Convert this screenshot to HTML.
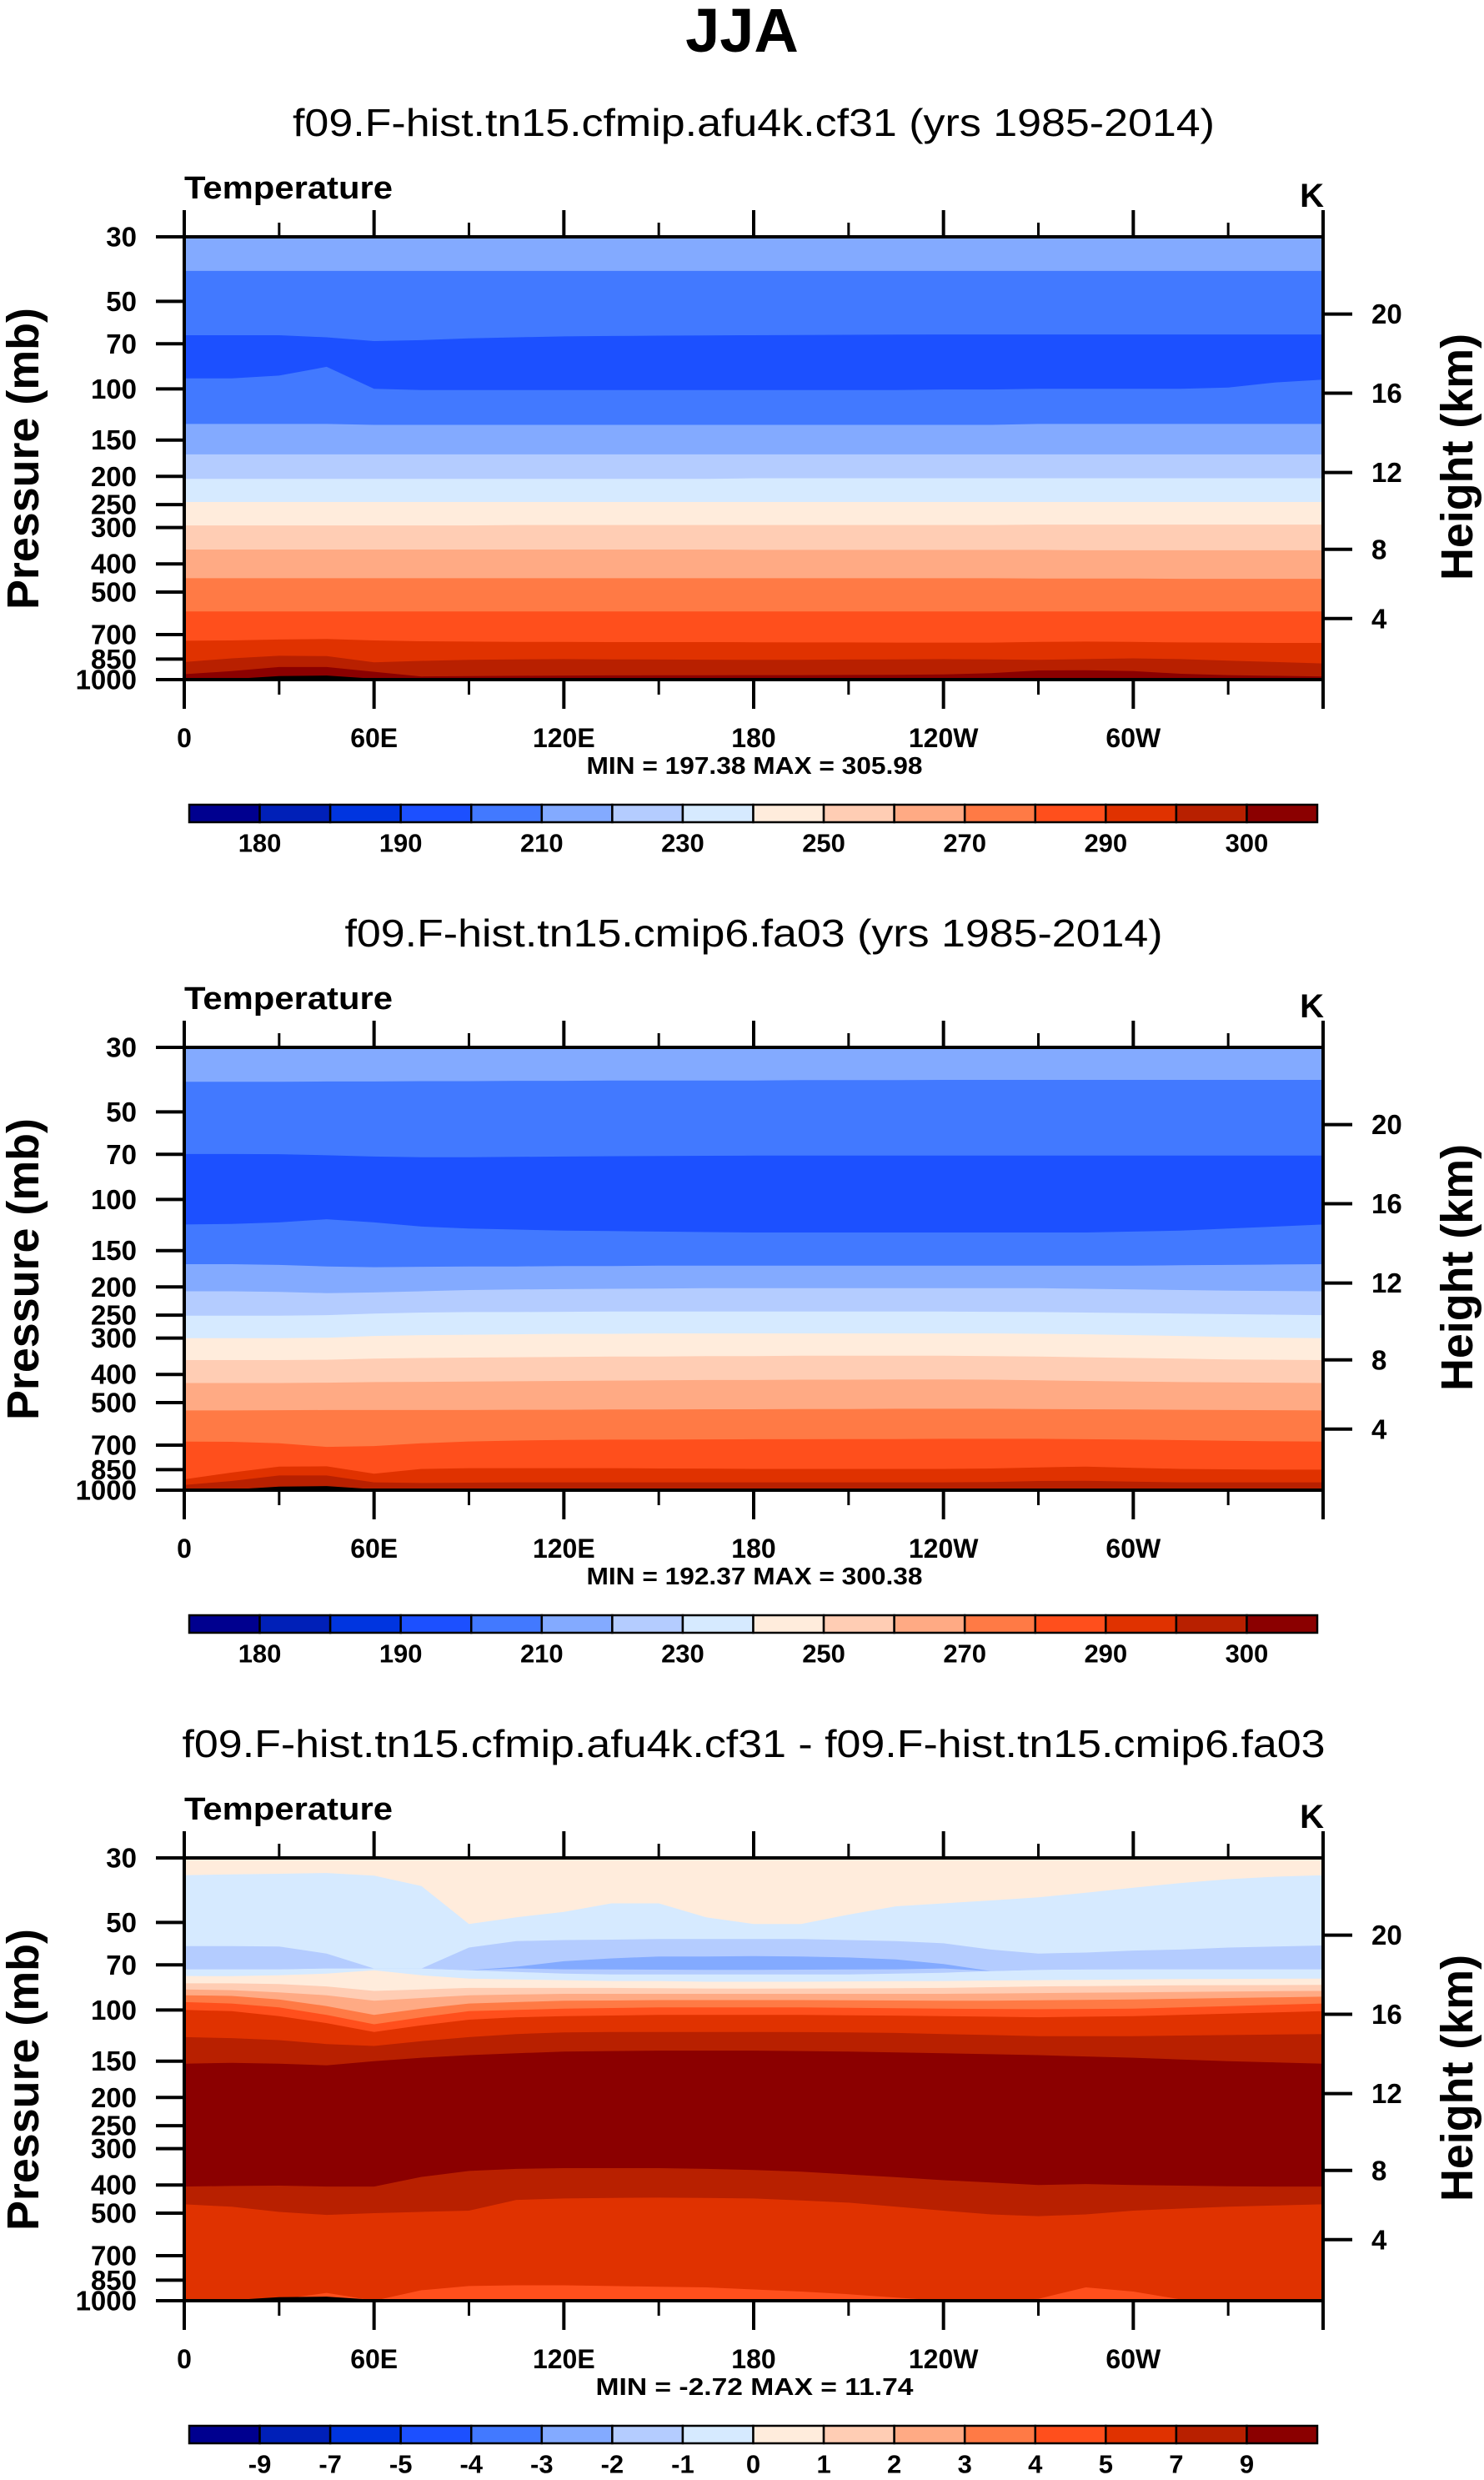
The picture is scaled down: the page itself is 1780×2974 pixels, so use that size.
<!DOCTYPE html>
<html><head><meta charset="utf-8"><style>
html,body{margin:0;padding:0;background:#fff}
svg{display:block}
text{font-family:"Liberation Sans",Arial,sans-serif;fill:#000}
</style></head>
<body>
<svg id="fig" width="1780" height="2974" viewBox="0 0 1780 2974" xmlns="http://www.w3.org/2000/svg">
<text x="890" y="62" font-size="74" font-weight="bold" text-anchor="middle">JJA</text>
</svg>
<script>
// ---------- data ----------
const lons = [0,15,30,45,60,75,90,105,120,135,150,165,180,195,210,225,240,255,270,285,300,315,330,345,360];
const palette = ["#00008f","#0020b8","#0035e0","#1c50ff","#4279ff","#83aaff","#b4ccff","#d6eaff","#ffecdc","#ffcdb4","#ffaa84","#ff7a45","#ff4f1c","#e03200","#b82000","#8b0000"];
const pressureTicks = [30,50,70,100,150,200,250,300,400,500,700,850,1000];
const heightTickLabels = ["20","16","12","8","4"];
const heightTickPressures = [55.3,103.5,194,356.5,616.6];
const lonTickLabels = ["0","60E","120E","180","120W","60W"];
const lonTickValues = [0,60,120,180,240,300];
const absLevelLabels = ["180","","190","","210","","230","","250","","270","","290","","300"];
const diffLevelLabels = ["-9","-7","-5","-4","-3","-2","-1","0","1","2","3","4","5","7","9"];
const topo = [1000,995,972,968,993,1000,1000,1000,1000,1000,1000,1000,1000,1000,1000,1000,1000,997,995,997,1000,1000,1000,1000,1000];

// panel 1 boundaries (top of each colour band, mb)
const p1_b1 = [39.3,39.3,39.3,39.3,39.3,39.3,39.3,39.3,39.3,39.3,39.3,39.3,39.3,39.3,39.3,39.3,39.3,39.3,39.3,39.3,39.3,39.3,39.3,39.3,39.3];
const p1_b2 = [65.4,65.4,65.4,66.5,68.5,68,67,66.5,66,65.8,65.6,65.5,65.4,65.3,65.2,65.1,65,65,65,65,65,65,65,65,65];
const p1_b3 = [92,92,90,84,100,101,101,101,101,101,101,101,101,101,101,101,100.5,100.5,100,100,100,100,99,95,93];
const p1_b4 = [132,132,132,132,133,133,133,133,133,133,133,133,133,133,133,133,133,133,132,132,132,132,132,132,132];
const p1_b5 = [168,168,168,168,168,168,168,168,168,168,168,168,168,168,168,168,168,168,168,168,168,168,168,168,168];
const p1_b6 = [204,204,204,204,204,204,204,204,204,204,204,204,203,203,203,203,203,203,203,203,203,203,203,203,203];
const p1_b7 = [245,245,245,245,245,245,245,245,245,245,245,245,245,245,245,245,245,245,245,245,245,245,245,245,245];
const p1_b8 = [295,295,295,295,295,295,295,294,294,294,294,294,294,294,294,294,294,294,293,293,293,293,293,293,293];
const p1_b9 = [357,357,357,357,357,357,357,357,357,357,357,357,358,358,358,358,358,358,358,359,359,359,359,359,359];
const p1_b10 = [448,448,448,448,448,448,448,448,448,448,448,448,448,448,448,448,448,448,449,449,449,450,450,450,450];
const p1_b11 = [583,583,583,583,583,583,583,583,583,583,583,583,583,583,583,583,583,583,583,583,583,583,583,583,583];
const p1_b12 = [735,733,728,725,733,738,740,742,742,743,743,743,744,745,745,746,746,746,742,740,742,745,746,748,748];
const p1_b13 = [870,845,828,830,872,862,855,852,850,852,853,854,855,855,853,852,850,852,855,850,845,850,860,870,880];
const p1_b14 = [958,935,905,905,940,975,972,970,968,967,966,966,965,965,964,963,960,950,930,928,935,955,965,970,975];

// panel 2 boundaries
const p2_b1 = [39.4,39.4,39.4,39.3,39.3,39.2,39.2,39.1,39.1,39,39,39,39,38.9,38.9,38.9,38.8,38.8,38.8,38.8,38.8,38.8,38.8,38.8,38.8];
const p2_b2 = [69.8,69.8,69.9,70.5,71.2,71.6,71.6,71.4,71.2,71,70.9,70.8,70.7,70.7,70.7,70.7,70.7,70.7,70.7,70.7,70.7,70.7,70.7,70.7,70.7];
const p2_b3 = [122,121.5,120,117,120,124,126,127,128,128.5,129,129.5,130,130,130,130,130,130,130,130,129,128,126,124,122];
const p2_b4 = [167,167,168,170,171,170.5,170,170,169.5,169.5,169,169,169,169,169,169,169,169,169,169,169,168.5,168,167.5,167];
const p2_b5 = [207,207,208,210,209,207,205,204,203.5,203,202.5,202,202,202,202,202,202,202,202,203,204,205,206,206.5,207];
const p2_b6 = [251,251,251,250,247,245,244,244,243.5,243,243,243,243,243,243,243,243,243.5,244,245,246,247,248,249,250];
const p2_b7 = [300,300,300,299,295,293,292,291,290,290,289,289,289,289,289,289,289,289,290,291,293,295,297,299,300];
const p2_b8 = [357,357,357,356,353,351,350,349,348,347,347,346,346,345,345,345,345,346,347,349,351,353,355,356,357];
const p2_b9 = [428,428,428,427,425,424,423,422,421,420,419,418,418,417,417,416,416,417,419,421,423,425,426,427,428];
const p2_b10 = [532,532,531,530,530,530,530,529,529,528,528,527,527,526,526,525,525,525,526,527,528,529,530,531,532];
const p2_b11 = [681,682,690,710,705,690,680,675,672,670,670,669,668,668,667,667,666,666,666,668,670,673,676,679,681];
const p2_b12 = [918,870,830,828,878,845,840,840,840,840,842,843,845,845,845,845,845,842,835,830,838,845,848,850,850];
const p2_b13 = [960,930,890,890,940,945,942,940,940,940,940,940,940,940,940,940,940,938,930,928,935,940,940,940,940];
const p2_b14 = [1000,992,978,980,996,1000,1000,1000,1000,1000,1000,1000,1000,1000,1000,1000,1000,996,990,992,998,1000,1000,1000,1000];

// panel 3 boundaries (difference)
const p3_L1 = [34.4,34.2,34.0,33.8,34.5,37.5,50.6,48,46,43,43,48,50.6,50.6,47,44,43,42,41,39.5,38,36.6,35.5,34.8,34.4];
const p3_L2 = [60.3,60.3,60.5,64,72,72,61,58,57.5,57.3,57,57,57,57,57.5,58,59,62,64,63.5,62.5,62,61,60.5,60];
const p3_E1 = [72.5,72.5,72.5,72,72,72,73,71,68,66.5,65.5,65.5,65.3,65.5,66,67,69.5,73.5,72.8,72.6,72.5,72.5,72.5,72.5,72.5];
const p3_E2 = [72.5,72.5,72.5,72,72,72,73,72,72.5,72.6,72.7,72.8,72.8,72.7,72.6,72.5,72,73.5,72.8,72.6,72.5,72.5,72.5,72.5,72.5];
const p3_L3 = [72.5,72.5,72.5,72,72,72,73,74,75,75.5,75.5,75.5,75.5,75.5,75.5,75,74.5,73.5,72.8,72.6,72.5,72.5,72.5,72.5,72.5];
const p3_L4 = [76.4,76.5,76,75,73,76,78,78.5,79,79.5,79.5,80,80,80,79.8,79.6,79.5,79.2,79,78.8,78.5,78.3,78.2,78.1,78];
const p3_L5 = [81,81,81.5,83,86,85,84,84,84,84,84.2,84.4,84.5,84.4,84.3,84.2,84,83.5,83,82.8,82.5,82.3,82.2,82.1,82];
const p3_L6 = [85,85.5,87,89,93,91,89,88.5,88,88,88,88,88,88,88,88,88,87.8,87.5,87.2,87,86.7,86.4,86.2,86];
const p3_L7 = [89,89.5,92,97,104,99,95,94,93,92.8,92.5,92.5,92.5,92.5,92.6,92.8,93,93,92.6,92.3,92,91.5,91,90.5,90];
const p3_L8 = [94,95,98,104,112,106,101,100,99,98.5,98,98,98,98,98.3,98.6,99,99.2,99.4,99.2,99,98,97,96,95];
const p3_L9 = [100,101,105,111,119,113,108,106,105,104.5,104,104,104,104,104.3,104.6,105,105.5,106,105.5,105,104,103,102,101];
const p3_L10 = [124,125,127,131,133,128,124,121,119.5,119,119,119,119,119.2,119.5,120,121,122,123,123,123,122.5,122,121.5,121];
const p3_L11 = [153,152,153,155,150,146,143,141,139,138.5,138,138,138,138.5,139,140,141,142,143,144.5,146,148,150,151.5,153];
const p3_L12 = [405,403,402,405,405,375,358,352,350,350,350,352,355,360,368,376,385,392,400,397,400,402,404,405,405];
const p3_L13 = [466,475,495,507,500,495,490,450,445,443,442,443,445,452,460,475,490,505,512,505,490,482,475,470,466];
const p3_L14 = [1000,1000,990,940,1000,920,890,885,885,890,895,900,915,930,950,975,1000,1000,985,900,930,990,1000,1000,1000];

const panels = [
  {title:"f09.F-hist.tn15.cfmip.afu4k.cf31 (yrs 1985-2014)", tlen:1106, minmax:"MIN = 197.38  MAX = 305.98", mmlen:403, labels:absLevelLabels, bg:5,
   bands:[[4,p1_b1],[3,p1_b2],[4,p1_b3],[5,p1_b4],[6,p1_b5],[7,p1_b6],[8,p1_b7],[9,p1_b8],[10,p1_b9],[11,p1_b10],[12,p1_b11],[13,p1_b12],[14,p1_b13],[15,p1_b14]]},
  {title:"f09.F-hist.tn15.cmip6.fa03 (yrs 1985-2014)", tlen:981, minmax:"MIN = 192.37  MAX = 300.38", mmlen:403, labels:absLevelLabels, bg:5,
   bands:[[4,p2_b1],[3,p2_b2],[4,p2_b3],[5,p2_b4],[6,p2_b5],[7,p2_b6],[8,p2_b7],[9,p2_b8],[10,p2_b9],[11,p2_b10],[12,p2_b11],[13,p2_b12],[14,p2_b13],[15,p2_b14]]},
  {title:"f09.F-hist.tn15.cfmip.afu4k.cf31 - f09.F-hist.tn15.cmip6.fa03", tlen:1371, minmax:"MIN = -2.72  MAX = 11.74", mmlen:381, labels:diffLevelLabels, bg:8,
   bands:[[7,p3_L1],[6,p3_L2],[5,p3_E1],[6,p3_E2],[7,p3_L3],[8,p3_L4],[9,p3_L5],[10,p3_L6],[11,p3_L7],[12,p3_L8],[13,p3_L9],[14,p3_L10],[15,p3_L11],[14,p3_L12],[13,p3_L13],[12,p3_L14]]}
];

// ---------- layout ----------
const NS = "http://www.w3.org/2000/svg";
const svg = document.getElementById('fig');
const PX0 = 221, PX1 = 1587, PY0 = 284, PY1 = 815, STEP = 972;
const xOf = lon => PX0 + (PX1 - PX0) * lon / 360;
const yOf = (p, off) => off + PY0 + (PY1 - PY0) * Math.log(p / 30) / Math.log(1000 / 30);
function mk(tag, attrs, parent) {
  const e = document.createElementNS(NS, tag);
  for (const k in attrs) e.setAttribute(k, attrs[k]);
  (parent || svg).appendChild(e);
  return e;
}
function txt(parent, s, x, y, size, anchor, extra) {
  const t = mk('text', Object.assign({x:x, y:y, 'font-size':size, 'font-weight':'bold', 'text-anchor':anchor||'middle', 'dominant-baseline':'central'}, extra||{}), parent);
  t.textContent = s;
  return t;
}
function bandPath(arr, off) {
  let d = '';
  lons.forEach((lon, i) => { d += (i ? 'L' : 'M') + xOf(lon).toFixed(1) + ',' + yOf(arr[i], off).toFixed(1); });
  d += 'L' + xOf(360) + ',' + yOf(1000, off) + 'L' + xOf(0) + ',' + yOf(1000, off) + 'Z';
  return d;
}

panels.forEach((P, k) => {
  const off = STEP * k;
  const g = mk('g', {});
  
  

  const st = mk('text', {x:904, y:off + 163, 'font-size':46, 'text-anchor':'middle', textLength:P.tlen, lengthAdjust:'spacingAndGlyphs'}, g);
  st.textContent = P.title;
  
  

  const tt = mk('text', {x:221, y:off + 238, 'font-size':38, 'font-weight':'bold', textLength:250, lengthAdjust:'spacingAndGlyphs'}, g);
  tt.textContent = 'Temperature';
  
  
  const ku = mk('text', {x:1588, y:off + 248, 'font-size':40, 'font-weight':'bold', 'text-anchor':'end'}, g);
  ku.textContent = 'K';
  
  

  // contour fill
  const cg = mk('g', {}, g);
  
  
  const bgr = mk('rect', {x:PX0, y:off + PY0, width:PX1 - PX0, height:PY1 - PY0, fill:palette[P.bg]}, cg);
  
  
  P.bands.forEach(([ci, arr]) => {
    const pth = mk('path', {d:bandPath(arr, off), fill:palette[ci]}, cg);
    
    
  });
  const tp = mk('path', {d:bandPath(topo, off), fill:'#000'}, cg);
  
  

  // frame
  const fr = mk('rect', {x:PX0, y:off + PY0, width:PX1 - PX0, height:PY1 - PY0, fill:'none', stroke:'#000', 'stroke-width':4}, g);
  
  

  // lon ticks
  for (let lon = 0; lon <= 360; lon += 30) {
    const major = lon % 60 === 0;
    const x = xOf(lon);
    const t1 = mk('line', {x1:x, x2:x, y1:off + PY0, y2:off + PY0 - (major ? 32 : 17), stroke:'#000', 'stroke-width':major ? 4 : 3}, g);
    
    
    const t2 = mk('line', {x1:x, x2:x, y1:off + PY1, y2:off + PY1 + (major ? 35 : 18), stroke:'#000', 'stroke-width':major ? 4 : 3}, g);
    
    
  }
  lonTickLabels.forEach((s, i) => {
    const t = txt(g, s, xOf(lonTickValues[i]), off + 885, 32);
    
    
  });

  // pressure ticks
  pressureTicks.forEach(p => {
    const y = yOf(p, off);
    const l = mk('line', {x1:187, x2:PX0, y1:y, y2:y, stroke:'#000', 'stroke-width':4}, g);
    
    
    const t = txt(g, String(p), 164, y, 33, 'end');
    
    
  });
  const yt = mk('text', {x:0, y:0, 'font-size':54, 'font-weight':'bold', 'text-anchor':'middle', 'dominant-baseline':'central', textLength:362, lengthAdjust:'spacingAndGlyphs', transform:'translate(28,' + (off + 550) + ') rotate(-90)'}, g);
  yt.textContent = 'Pressure (mb)';
  
  

  // height ticks
  heightTickPressures.forEach((p, i) => {
    const y = yOf(p, off);
    const l = mk('line', {x1:PX1, x2:1622, y1:y, y2:y, stroke:'#000', 'stroke-width':4}, g);
    
    
    const t = txt(g, heightTickLabels[i], 1645, y, 33, 'start');
    
    
  });
  const ht = mk('text', {x:0, y:0, 'font-size':54, 'font-weight':'bold', 'text-anchor':'middle', 'dominant-baseline':'central', textLength:296, lengthAdjust:'spacingAndGlyphs', transform:'translate(1748,' + (off + 548) + ') rotate(-90)'}, g);
  ht.textContent = 'Height (km)';
  
  

  const mm = txt(g, P.minmax, 905, off + 919, 29, 'middle', {textLength:P.mmlen, lengthAdjust:'spacingAndGlyphs', 'xml:space':'preserve'});
  
  

  // colorbar
  const cb = mk('g', {}, g);
  
  
  const CX0 = 227, CX1 = 1580, CW = (CX1 - CX0) / 16;
  palette.forEach((c, i) => {
    const r = mk('rect', {x:CX0 + i * CW, y:off + 965, width:CW, height:21, fill:c, stroke:'#000', 'stroke-width':2.5}, cb);
    
    
  });
  P.labels.forEach((s, i) => {
    if (!s) return;
    const t = txt(cb, s, CX0 + (i + 1) * CW, off + 1011, 31);
    
    
  });
});
</script>
</body></html>
